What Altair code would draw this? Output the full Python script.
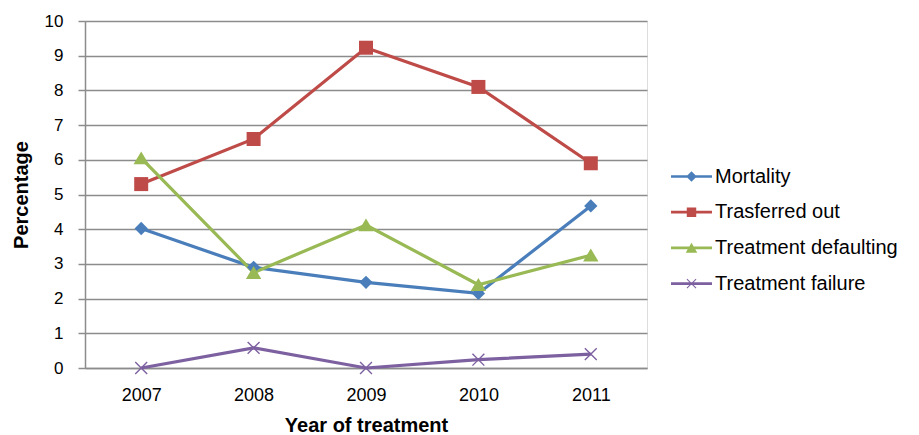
import altair as alt
import pandas as pd

years = ["2007", "2008", "2009", "2010", "2011"]
series = ["Mortality", "Trasferred out", "Treatment defaulting", "Treatment failure"]
mortality = [4.02, 2.90, 2.47, 2.15, 4.67]
transferred = [5.30, 6.60, 9.23, 8.10, 5.90]
defaulting = [6.05, 2.75, 4.12, 2.40, 3.25]
failure = [0.0, 0.58, 0.0, 0.24, 0.40]
colors = ["#4A7EBB", "#BE4B48", "#98B954", "#7D60A0"]
y_ticks = [0, 1, 2, 3, 4, 5, 6, 7, 8, 9, 10]

rows = []
for name, vals in zip(series, [mortality, transferred, defaulting, failure]):
    for y, v in zip(years, vals):
        rows.append({"year": y, "series": name, "value": v})
df = pd.DataFrame(rows)

FONT = "Liberation Sans"

# marker shapes in chart (one per series)
point_shapes = [
    "M0,-0.95L0.95,0L0,0.95L-0.95,0Z",
    "M-1,-1H1V1H-1Z",
    "M0,-0.95L1.1,0.9H-1.1Z",
    "M-0.78,-0.92L0.92,0.78L0.78,0.92L-0.92,-0.78Z M0.78,-0.92L0.92,-0.78L-0.78,0.92L-0.92,0.78Z",
]
# legend symbols: line + marker
bar = "M-1.95,-0.13H1.95V0.13H-1.95Z "
legend_shapes = [
    bar + "M0,-0.5L0.5,0L0,0.5L-0.5,0Z",
    bar + "M-0.45,-0.45H0.45V0.45H-0.45Z",
    bar + "M0,-0.5L0.55,0.45H-0.55Z",
    bar + "M-0.4,-0.47L0.47,0.4L0.4,0.47L-0.47,-0.4Z M0.4,-0.47L0.47,-0.4L-0.4,0.47L-0.47,0.4Z",
]

x_enc = alt.X(
    "year:O",
    scale=alt.Scale(type="point", padding=0.5, domain=years),
    axis=alt.Axis(
        title="Year of treatment", labelAngle=0, ticks=False, grid=False,
        labelFont=FONT, labelFontSize=18, labelColor="#000", labelPadding=18,
        titleFont=FONT, titleFontSize=20, titleFontWeight="bold", titleColor="#000",
        titlePadding=11, domainColor="#8c8c8c", domainWidth=1.5,
    ),
)
y_enc = alt.Y(
    "value:Q",
    scale=alt.Scale(domain=[0, 10], nice=False),
    axis=alt.Axis(
        title="Percentage", values=y_ticks,
        labelFont=FONT, labelFontSize=17, labelColor="#000", labelPadding=15,
        titleFont=FONT, titleFontSize=20, titleFontWeight="bold", titleColor="#000",
        titlePadding=13, gridColor="#8c8c8c", gridWidth=1.5,
        domainColor="#8c8c8c", domainWidth=1.5, tickColor="#8c8c8c", tickSize=7, tickWidth=1.5,
    ),
)

base = alt.Chart(df)
layers = []
for name, col in zip(series, colors):
    layers.append(
        base.transform_filter(alt.datum.series == name)
        .mark_line(strokeWidth=3.2, color=col)
        .encode(x=x_enc, y=y_enc)
    )
for name, col, path in zip(series, colors, point_shapes):
    layers.append(
        base.transform_filter(alt.datum.series == name)
        .mark_point(filled=True, size=196, opacity=1, shape=path, color=col)
        .encode(x=x_enc, y=y_enc)
    )

leg_props = dict(
    title=None, orient="none", legendX=596, legendY=145,
    labelFont=FONT, labelFontSize=20, labelColor="#000", labelOffset=13,
    labelLimit=400,
    labelExpr="indexof(datum.label, 'Treatment') == 0 ? '\u00a0' + datum.label : datum.label",
    symbolSize=441, rowPadding=14.7, symbolStrokeWidth=0, symbolOpacity=1,
)
layers.append(
    base.transform_filter("datum.value < -100")
    .mark_point(filled=True, size=441)
    .encode(
        x=x_enc, y=y_enc,
        color=alt.Color("series:N", scale=alt.Scale(domain=series, range=colors),
                        legend=alt.Legend(**leg_props)),
        shape=alt.Shape("series:N", scale=alt.Scale(domain=series, range=legend_shapes),
                        legend=alt.Legend(**leg_props)),
    )
)

chart = (
    alt.layer(*layers)
    .properties(
        width=562, height=347,
        autosize=alt.AutoSizeParams(type="none"),
        padding={"left": 77, "top": 13, "right": 264, "bottom": 66},
    )
    .configure_view(stroke=None)
    .configure(background="white")
)

chart.save("out.html", embed_options={"renderer": "svg", "actions": False})
